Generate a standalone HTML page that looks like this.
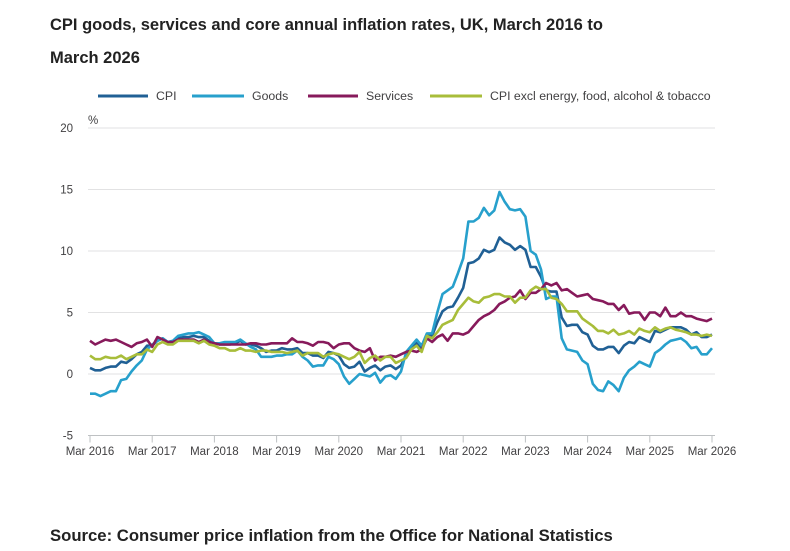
<!DOCTYPE html>
<html><head><meta charset="utf-8"><style>
body{margin:0;background:#fff;font-family:"Liberation Sans",sans-serif;}
svg{display:block}
</style></head><body>
<svg width="790" height="551" id="c" font-family="Liberation Sans, sans-serif">
<text x="50" y="30" font-size="16.5" font-weight="bold" fill="#222">CPI goods, services and core annual inflation rates, UK, March 2016 to</text>
<text x="50" y="63" font-size="16.5" font-weight="bold" fill="#222">March 2026</text>
<g font-size="12.3" fill="#414042">
<line x1="98" y1="96" x2="148" y2="96" stroke="#206095" stroke-width="3"/><text x="156" y="100">CPI</text>
<line x1="192" y1="96" x2="244" y2="96" stroke="#27a0cc" stroke-width="3"/><text x="252" y="100">Goods</text>
<line x1="308" y1="96" x2="358" y2="96" stroke="#871a5b" stroke-width="3"/><text x="366" y="100">Services</text>
<line x1="430" y1="96" x2="482" y2="96" stroke="#a8bd3a" stroke-width="3"/><text x="490" y="100">CPI excl energy, food, alcohol &amp; tobacco</text>
</g>
<g id="grid"></g><g id="axes"></g><g id="lines"></g>
<text x="50" y="541" font-size="16.7" font-weight="bold" fill="#222">Source: Consumer price inflation from the Office for National Statistics</text>
</svg>
<script>
const yTicks=[20,15,10,5,0,-5];
const xTickLabels=["Mar 2016","Mar 2017","Mar 2018","Mar 2019","Mar 2020","Mar 2021","Mar 2022","Mar 2023","Mar 2024","Mar 2025","Mar 2026"];
const cpi=[0.5,0.3,0.3,0.5,0.6,0.6,1.0,0.9,1.2,1.6,
1.8,2.3,2.3,2.7,2.9,2.6,2.6,2.9,3.0,3.0,3.1,3.0,
3.0,2.7,2.5,2.4,2.4,2.4,2.5,2.7,2.4,2.4,2.3,2.1,
1.8,1.9,1.9,2.1,2.0,2.0,2.1,1.7,1.7,1.5,1.5,1.3,
1.8,1.7,1.5,0.8,0.5,0.6,1.0,0.2,0.5,0.7,0.3,0.6,
0.7,0.4,0.7,1.5,2.1,2.5,2.0,3.2,3.1,4.2,5.1,5.4,
5.5,6.2,7.0,9.0,9.1,9.4,10.1,9.9,10.1,11.1,10.7,10.5,
10.1,10.4,10.1,8.7,8.7,7.9,6.8,6.7,6.7,4.6,3.9,4.0,
4.0,3.4,3.2,2.3,2.0,2.0,2.2,2.2,1.7,2.3,2.6,2.5,
3.0,2.8,2.6,3.5,3.4,3.6,3.8,3.8,3.8,3.6,3.2,3.4,
3.0,3.0,3.2];
const goods=[-1.6,-1.6,-1.8,-1.6,-1.4,-1.4,-0.5,-0.4,0.2,0.7,
1.1,2.0,2.4,2.7,2.9,2.6,2.7,3.1,3.2,3.3,3.3,3.4,
3.2,3.0,2.5,2.5,2.6,2.6,2.6,2.8,2.5,2.2,2.0,1.4,
1.4,1.4,1.5,1.5,1.6,1.6,1.9,1.4,1.1,0.6,0.7,0.7,
1.4,1.2,0.8,-0.2,-0.8,-0.4,0.0,-0.1,-0.2,0.1,-0.7,-0.2,
-0.1,-0.4,0.2,1.8,2.3,2.8,2.3,3.3,3.3,5.0,6.5,6.8,
7.1,8.2,9.4,12.4,12.4,12.7,13.5,12.9,13.3,14.8,14.0,13.4,
13.3,13.4,12.8,10.0,9.7,8.5,6.1,6.3,6.3,2.9,2.0,1.9,
1.8,1.1,0.8,-0.8,-1.3,-1.4,-0.6,-0.9,-1.4,-0.3,0.3,0.6,
1.0,0.8,0.6,1.7,2.0,2.4,2.7,2.8,2.9,2.6,2.1,2.2,
1.6,1.6,2.1];
const services=[2.7,2.4,2.6,2.8,2.7,2.8,2.6,2.4,2.2,2.5,
2.6,2.8,2.2,3.0,2.8,2.6,2.6,2.8,2.8,2.8,2.8,2.6,
2.8,2.6,2.5,2.4,2.4,2.4,2.4,2.4,2.4,2.5,2.5,2.4,
2.4,2.5,2.5,2.5,2.5,2.9,2.6,2.6,2.5,2.3,2.6,2.6,
2.5,2.1,2.4,2.5,2.5,2.1,1.9,1.8,2.1,1.1,1.4,1.4,
1.5,1.4,1.6,1.8,1.9,1.8,2.0,2.9,2.6,3.0,3.2,2.7,
3.3,3.3,3.2,3.4,3.9,4.4,4.7,4.9,5.2,5.7,5.9,6.2,
6.3,6.8,6.1,6.6,6.6,6.9,7.4,7.2,7.4,6.8,6.9,6.6,
6.3,6.4,6.5,6.1,6.0,5.9,5.7,5.7,5.2,5.6,4.9,5.0,
5.0,4.4,5.0,5.0,4.7,5.4,4.7,4.7,5.0,4.7,4.7,4.5,
4.4,4.3,4.5];
const core=[1.5,1.2,1.2,1.4,1.3,1.3,1.5,1.2,1.4,1.6,
1.6,2.0,1.8,2.4,2.6,2.4,2.4,2.7,2.7,2.7,2.7,2.5,
2.7,2.4,2.3,2.1,2.1,1.9,1.9,2.1,1.9,1.9,1.8,1.9,
1.9,1.8,1.8,1.8,1.7,1.8,1.9,1.5,1.7,1.7,1.7,1.4,
1.6,1.7,1.6,1.4,1.2,1.4,1.8,0.9,1.3,1.5,1.1,1.4,
1.4,0.9,1.1,1.3,2.0,2.3,1.8,3.1,2.9,3.4,4.0,4.2,
4.4,5.2,5.7,6.2,5.9,5.8,6.2,6.3,6.5,6.5,6.3,6.3,
5.8,6.2,6.2,6.8,7.1,6.9,6.9,6.2,6.1,5.7,5.1,5.1,
5.1,4.5,4.2,3.9,3.5,3.5,3.3,3.6,3.2,3.3,3.5,3.2,
3.7,3.5,3.4,3.8,3.5,3.7,3.8,3.6,3.5,3.4,3.2,3.2,
3.1,3.2,3.1];
const NS="http://www.w3.org/2000/svg";
const x0=90,x1=712,y20=128,y0=374;
function xs(i){return x0+(x1-x0)*i/120;}
function ys(v){return y0-(y0-y20)*v/20;}
function mk(t,a,p){const e=document.createElementNS(NS,t);for(const k in a)e.setAttribute(k,a[k]);p.appendChild(e);return e;}
const grid=document.getElementById('grid'),axes=document.getElementById('axes'),lines=document.getElementById('lines');
yTicks.forEach(v=>{
 if(v>-5){const l=mk('line',{x1:88,x2:715,y1:ys(v),y2:ys(v),stroke:'#e2e2e3','stroke-width':1},grid);
 
 }
 const t=mk('text',{x:73,y:ys(v)+4,'text-anchor':'end','font-size':11.5,fill:'#414042'},axes);t.textContent=v;
 
 
});
const pct=mk('text',{x:88,y:124,'font-size':11.5,fill:'#414042'},axes);pct.textContent='%';


const ax=mk('line',{x1:88,x2:715,y1:ys(-5),y2:ys(-5),stroke:'#bec1c3','stroke-width':1},axes);


xTickLabels.forEach((s,k)=>{
 const x=xs(k*12);
 const tk=mk('line',{x1:x,x2:x,y1:ys(-5),y2:ys(-5)+7,stroke:'#bec1c3'},axes);
 
 
 const t=mk('text',{x:x,y:455,'text-anchor':'middle','font-size':11.5,fill:'#414042'},axes);t.textContent=s;
 
 
});
[[cpi,'#206095','line-cpi'],[goods,'#27a0cc','line-goods'],[services,'#871a5b','line-services'],[core,'#a8bd3a','line-core']].forEach(([d,c,n])=>{
 const p=mk('polyline',{points:d.map((v,i)=>xs(i).toFixed(1)+','+ys(v).toFixed(1)).join(' '),fill:'none',stroke:c,'stroke-width':2.6,'stroke-linejoin':'round'},lines);
 
 
});
</script>
</body></html>
